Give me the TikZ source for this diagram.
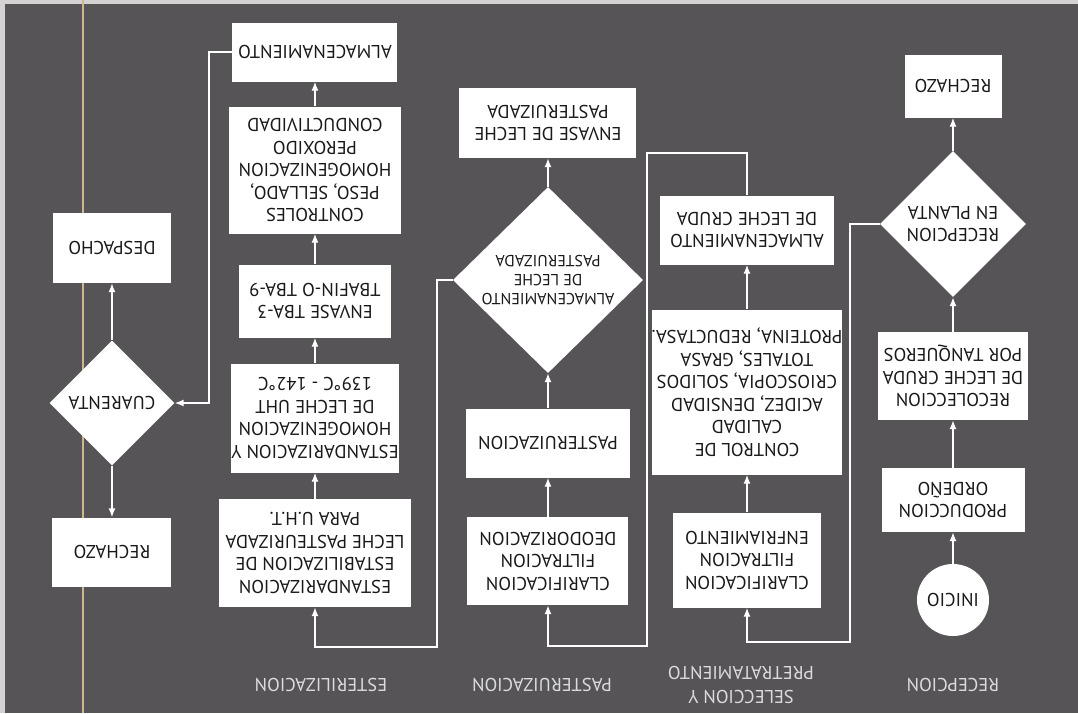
\documentclass[tikz,border=0pt]{standalone}
\usepackage{fontspec}
\setmainfont{PT Sans}
\usepackage{tikz}
\usetikzlibrary{shapes,arrows.meta}
\definecolor{fondo}{HTML}{575458}
\definecolor{borde}{HTML}{D4D2D2}
\definecolor{rotulo}{HTML}{DCDCDC}
\definecolor{guia}{HTML}{C9B98C}
\tikzset{caja/.style = {shape=rectangle,fill=white,inner sep=0pt,align=center,text=black!90,font=\fontsize{18.5}{22.5}\selectfont}}
\tikzset{rombo/.style = {shape=diamond,shape aspect=1,fill=white,inner sep=0pt,align=center,text=black!90,font=\fontsize{18.5}{22.5}\selectfont}}
\tikzset{etiqueta/.style = {align=center,text=rotulo,font=\fontsize{18.5}{24}\selectfont}}
\tikzset{flecha/.style = {draw=white,line width=1.4pt,-{Latex[length=9pt,width=7pt]}}}

\begin{document}
\begin{tikzpicture}[x=1pt,y=1pt,rotate=180,transform shape]
		% the scanned sheet lies upside down
		\fill[fondo] (0,0) rectangle (1078,713);
		\useasboundingbox (0,0) rectangle (1078,713);
		\fill[borde] (0,0) rectangle (1078,4);
		\fill[borde] (1073,0) rectangle (1078,713);
		\draw[guia, line width=1.2pt] (995,0) -- (995,713);
		% column titles
		\node[etiqueta] (etqA) at (125,685) {RECEPCION};
		\node[etiqueta] (etqB) at (337,685) {SELECCION Y\\PRETRATAMIENTO};
		\node[etiqueta] (etqC) at (536,685) {PASTERUIZACION};
		\node[etiqueta] (etqD) at (757,685) {ESTERILIZACION};
		% vertices
		\node[caja, circle, minimum size=72pt] (inicio) at (125,600) {INICIO};
		\node[caja, minimum width=143pt, minimum height=64pt] (produccion) at (125,500) {PRODUCCION\\ORDEÑO};
		\node[caja, minimum width=150pt, minimum height=88pt] (recoleccion) at (125,376) {RECOLECCION\\DE LECHE CRUDA\\POR TANQUEROS};
		\node[rombo, minimum size=146pt] (recepcion) at (125,224) {RECEPCION\\EN PLANTA};
		\node[caja, minimum width=97pt, minimum height=63pt] (rechazoA) at (125,86) {RECHAZO};

		\node[caja, minimum width=148pt, minimum height=95pt] (clarifA) at (331,560) {CLARIFICACION\\FILTRACION\\ENFRIAMIENTO};
		\node[caja, minimum width=189pt, minimum height=165pt] (calidad) at (331,392) {CONTROL DE\\CALIDAD\\ACIDEZ, DENSIDAD\\CRIOSCOPIA, SOLIDOS\\TOTALES, GRASA\\PROTEINA, REDUCTASA.};
		\node[caja, minimum width=174pt, minimum height=69pt] (cruda) at (331,230) {ALMACENAMIENTO\\DE LECHE CRUDA};

		\node[caja, minimum width=161pt, minimum height=88pt] (clarifB) at (530,561) {CLARIFICACION\\FILTRACION\\DEODORIZACION};
		\node[caja, minimum width=164pt, minimum height=69pt] (pasteur) at (530,443) {PASTERUIZACION};
		\node[rombo, minimum width=190pt, minimum height=186pt, font=\fontsize{16}{19}\selectfont] (almpast) at (530,280) {ALMACENAMIENTO\\DE LECHE\\PASTERUIZADA};
		\node[caja, minimum width=177pt, minimum height=70pt] (envpast) at (530,123) {ENVASE DE LECHE\\PASTERUIZADA};

		\node[caja, minimum width=192pt, minimum height=108pt] (estab) at (763,553) {ESTANDARIZACION\\ESTABILIZACION DE\\LECHE PASTEURIZADA\\PARA U.H.T.};
		\node[caja, minimum width=167pt, minimum height=109pt] (uht) at (763,418) {ESTANDARIZACION Y\\HOMOGENIZACION\\DE LECHE UHT\\139°C - 142°C};
		\node[caja, minimum width=152pt, minimum height=73pt] (tba) at (763,301) {ENVASE TBA-3\\TBAFIN-O TBA-9};
		\node[caja, minimum width=172pt, minimum height=127pt] (controles) at (763,170) {CONTROLES\\PESO, SELLADO,\\HOMOGENIZACION\\PEROXIDO\\CONDUCTIVIDAD};
		\node[caja, minimum width=165pt, minimum height=59pt] (almuht) at (763,52) {ALMACENAMIENTO};

		\node[caja, minimum width=119pt, minimum height=69pt] (rechazoB) at (966,552) {RECHAZO};
		\node[rombo, minimum size=125pt] (cuarenta) at (966,403) {CUARENTA};
		\node[caja, minimum width=118pt, minimum height=70pt] (despacho) at (966,248) {DESPACHO};
		% bends
		\coordinate (codoA) at (228,642);
		\coordinate (codoB) at (431,153);
		\coordinate (codoC) at (431,646);
		\coordinate (codoD) at (641,647);
		\coordinate (codoE) at (869,403);
		%edges
		\draw[flecha] (inicio) -- (produccion);
		\draw[flecha] (produccion) -- (recoleccion);
		\draw[flecha] (recoleccion) -- (recepcion);
		\draw[flecha] (recepcion) -- (rechazoA);
		\draw[flecha] (recepcion.east) -| (codoA) -| (clarifA.north);
		\draw[flecha] (clarifA) -- (calidad);
		\draw[flecha] (calidad) -- (cruda);
		\draw[flecha] (cruda.south) |- (codoB) -- (codoC) -| (clarifB.north);
		\draw[flecha] (clarifB) -- (pasteur);
		\draw[flecha] (pasteur) -- (almpast);
		\draw[flecha] (almpast) -- (envpast);
		\draw[flecha] (almpast.east) -| (codoD) -| (estab.north);
		\draw[flecha] (estab) -- (uht);
		\draw[flecha] (uht) -- (tba);
		\draw[flecha] (tba) -- (controles);
		\draw[flecha] (controles) -- (almuht);
		\draw[flecha] (almuht.east) -| (codoE) -- (cuarenta.west);
		\draw[flecha] (cuarenta) -- (despacho);
		\draw[flecha] (cuarenta) -- (rechazoB);
\end{tikzpicture}
\end{document}
